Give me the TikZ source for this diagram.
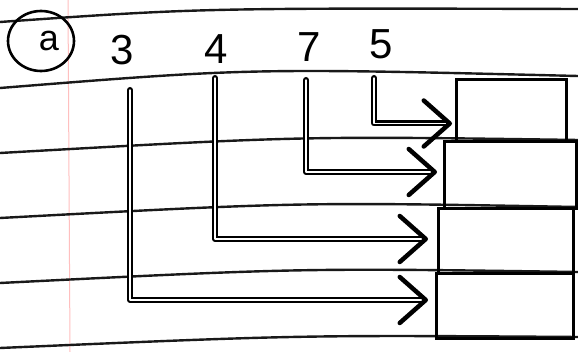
\documentclass[tikz,border=0pt]{standalone}
\usepackage{fontspec}
\setmainfont{Liberation Sans}
\usetikzlibrary{arrows.meta,calc,shapes.geometric}
\begin{document}
\begin{tikzpicture}[x=1pt,y=-1pt,
  rule/.style={line width=2.4pt,black!90,line cap=round},
  margin/.style={line width=1pt,red!25},
  boxn/.style={draw,line width=3pt,minimum width=#1,inner sep=0pt,anchor=north west},
  conn/.style={line width=2.3pt,double,double distance=1.4pt,line join=round,line cap=round,
    -{Straight Barb[length=26pt,width=46pt,line width=4.5pt,round]}},
  digit/.style={font=\fontsize{42}{42}\selectfont,inner sep=0pt}]
\useasboundingbox (0,0) rectangle (578,352);
\fill[white] (0,0) rectangle (578,352);
% paper
\draw[margin] (68,0) -- (70,352);
\draw[rule] (0,22) .. controls (200,8) .. (578,9);
\draw[rule] (0,88) .. controls (250,68) .. (578,76);
\draw[rule] (0,153) .. controls (300,136) .. (578,140);
\draw[rule] (0,218) .. controls (300,202) .. (578,207);
\draw[rule] (0,283) .. controls (300,268) .. (578,272);
\draw[rule] (0,348) .. controls (300,335) .. (578,337);
% labels
\node[draw,ellipse,line width=2.6pt,minimum width=66pt,minimum height=60pt,inner sep=0pt] (la) at (41,41) {};
\node[font=\fontsize{36}{36}\selectfont,inner sep=0pt] (lat) at (49,41) {a};
\node[digit] (l3) at (122,50) {3};
\node[digit] (l4) at (216,49) {4};
\node[digit] (l7) at (309,47) {7};
\node[digit] (l5) at (381,44) {5};
% boxes
\node[boxn=110pt,minimum height=62pt] (b1) at (455,78) {};
\node[boxn=132pt,minimum height=67pt] (b2) at (443,140) {};
\node[boxn=135pt,minimum height=65pt] (b3) at (437,207) {};
\node[boxn=137pt,minimum height=65pt] (b4) at (435,272) {};
% connector starts
\coordinate (s3) at (130,90);
\coordinate (s4) at (215,78);
\coordinate (s7) at (306,80);
\coordinate (s5) at (374,78);
% connectors
\draw[conn] (s3) |- ($(b4.west)+(-7,-6)$);
\draw[conn] (s4) |- ($(b3.west)+(-9,-2)$);
\draw[conn] (s7) |- ($(b2.west)+(-6,-3)$);
\draw[conn] (s5) |- ($(b1.west)+(-3,13)$);
\end{tikzpicture}
\end{document}
